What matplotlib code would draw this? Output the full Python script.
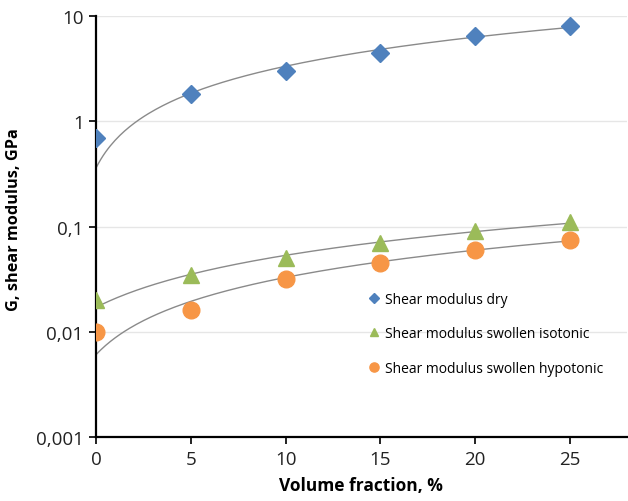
import numpy as np
import matplotlib.pyplot as plt
from matplotlib.ticker import FixedLocator, FixedFormatter, NullLocator

plt.rcParams['font.family'] = ['Open Sans', 'DejaVu Sans']

x = [0, 5, 10, 15, 20, 25]
dry = [0.7, 1.8, 3.0, 4.5, 6.5, 8.0]
isotonic = [0.02, 0.035, 0.05, 0.07, 0.09, 0.11]
hypotonic = [0.01, 0.016, 0.032, 0.045, 0.06, 0.075]

yticks = [0.001, 0.01, 0.1, 1, 10]
ylabels = ['0,001', '0,01', '0,1', '1', '10']

series = [
    (dry, 'D', '#4F81BD', 9, 'Shear modulus dry'),
    (isotonic, '^', '#9BBB59', 11, 'Shear modulus swollen isotonic'),
    (hypotonic, 'o', '#F79646', 12, 'Shear modulus swollen hypotonic'),
]

fig = plt.figure(figsize=(6.28, 5.02), dpi=100)
ax = fig.add_axes([0.153, 0.127, 0.845, 0.839])

xs = np.linspace(0, 25, 200)
for vals, m, c, s, lab in series:
    # linear trendline, drawn on the log axis
    k, b = np.polyfit(x, vals, 1)
    ax.plot(xs, k * xs + b, color='#8a8a8a', lw=1.0, zorder=2)
    ax.plot(x, vals, ls='none', marker=m, ms=s, color=c, mec=c,
            label=lab, zorder=3)

ax.set_yscale('log')
ax.set_ylim(0.001, 10)
ax.set_xlim(0, 28)
ax.yaxis.set_major_locator(FixedLocator(yticks))
ax.yaxis.set_major_formatter(FixedFormatter(ylabels))
ax.yaxis.set_minor_locator(NullLocator())
ax.set_xticks([0, 5, 10, 15, 20, 25])
ax.grid(axis='y', color='#e6e6e6', lw=1)
ax.set_axisbelow(True)

for sp in ['top', 'right']:
    ax.spines[sp].set_visible(False)
for sp in ['left', 'bottom']:
    ax.spines[sp].set_linewidth(1.6)
ax.tick_params(direction='out', length=5, width=1.4, labelsize=13.5,
               colors='#222222', pad=4)

ax.set_xlabel('Volume fraction, %', fontsize=12.5, fontweight='bold', labelpad=6)
ax.set_ylabel('G, shear modulus, GPa', fontsize=11.7, fontweight='bold')
ax.yaxis.set_label_coords(-0.139, 0.52)

leg = ax.legend(loc='upper left', bbox_to_anchor=(0.487, 0.375), frameon=False,
                fontsize=10, labelspacing=1.4, handletextpad=0.3,
                markerscale=0.55, handlelength=1.0)

fig.savefig('out.png', dpi=100)
